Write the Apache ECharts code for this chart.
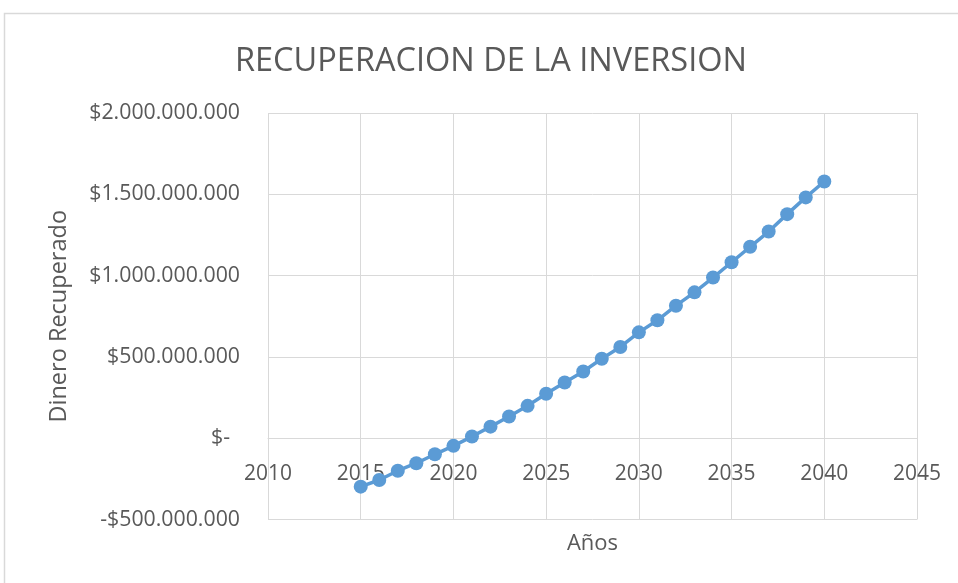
<!DOCTYPE html>
<html>
<head>
<meta charset="utf-8">
<script src="https://cdn.jsdelivr.net/npm/echarts@6/dist/echarts.min.js"></script>
<style>
  html, body { margin: 0; padding: 0; background: #ffffff; }
  #chart { width: 958px; height: 583px; }
</style>
</head>
<body>
<div id="chart"></div>
<script>
// Años del proyecto y dinero acumulado recuperado (pesos)
const years = [2015, 2016, 2017, 2018, 2019, 2020, 2021, 2022, 2023, 2024, 2025, 2026, 2027,
               2028, 2029, 2030, 2031, 2032, 2033, 2034, 2035, 2036, 2037, 2038, 2039, 2040];
const recovered = [-298000000, -257000000, -200000000, -154000000, -99000000, -47000000,
                   10000000, 71000000, 133000000, 199000000, 273000000, 343000000, 410000000,
                   489000000, 561000000, 651000000, 725000000, 815000000, 897000000, 988000000,
                   1082000000, 1177000000, 1271000000, 1378000000, 1481000000, 1579000000];

const titleText = 'RECUPERACION DE LA INVERSION';
const xName = 'Años';
const yName = 'Dinero Recuperado';

const textColor = '#595959';
const gridColor = '#d9d9d9';
const font = '"Open Sans", "Liberation Sans", sans-serif';

const yMin = -500000000;
const yMax = 2000000000;
const gridTop = 113;
const gridBottom = 63.5;
const plotHeight = 583 - gridTop - gridBottom;
// Distance from the bottom edge of the plot up to the zero line, where the year axis sits
const zeroLift = plotHeight * (0 - yMin) / (yMax - yMin);

// Formato contable: $1.500.000.000 / -$500.000.000 / $-
function money(v) {
  if (v === 0) return '{z|$-}';
  const s = Math.abs(v).toFixed(0).replace(/\B(?=(\d{3})+(?!\d))/g, '.');
  return (v < 0 ? '-$' : '$') + s;
}

const chart = echarts.init(document.getElementById('chart'), null, { renderer: 'canvas' });

chart.setOption({
  animation: false,
  backgroundColor: '#ffffff',
  title: {
    text: titleText,
    left: 230,
    top: 40,
    textStyle: { color: textColor, fontFamily: font, fontSize: 32.5, fontWeight: 'normal' }
  },
  graphic: [{
    type: 'rect',
    shape: { x: 4.5, y: 13.5, width: 1200, height: 1200 },
    style: { fill: 'none', stroke: gridColor, lineWidth: 1.5 },
    silent: true,
    z: -10
  }],
  grid: {
    left: 268, right: 41, top: gridTop, bottom: gridBottom,
    containLabel: false,
    outerBoundsMode: 'none'
  },
  xAxis: {
    type: 'value',
    position: 'bottom',
    offset: -zeroLift,
    min: 2010,
    max: 2045,
    interval: 5,
    name: xName,
    nameLocation: 'middle',
    nameGap: 95,
    nameTextStyle: { color: textColor, fontFamily: font, fontSize: 22 },
    axisLine: { show: true, onZero: false, lineStyle: { color: gridColor, width: 1 } },
    axisTick: { show: false },
    axisLabel: {
      color: textColor, fontFamily: font, fontSize: 21, margin: 25,
      formatter: v => String(v)
    },
    splitLine: { show: true, lineStyle: { color: gridColor, width: 1 } }
  },
  yAxis: {
    type: 'value',
    min: yMin,
    max: yMax,
    interval: 500000000,
    name: yName,
    nameLocation: 'middle',
    nameGap: 197,
    nameTextStyle: { color: textColor, fontFamily: font, fontSize: 23.5 },
    axisLine: { show: false },
    axisTick: { show: false },
    axisLabel: {
      color: textColor, fontFamily: font, fontSize: 21.3, margin: 28,
      formatter: money,
      rich: { z: { color: textColor, fontFamily: font, fontSize: 21.3, padding: [0, 10, 0, 0] } }
    },
    splitLine: { show: true, lineStyle: { color: gridColor, width: 1 } }
  },
  series: [{
    type: 'line',
    data: years.map((y, i) => [y, recovered[i]]),
    symbol: 'circle',
    symbolSize: 14,
    lineStyle: { color: '#5b9bd5', width: 3.5 },
    itemStyle: { color: '#5b9bd5' }
  }]
});
</script>
</body>
</html>
